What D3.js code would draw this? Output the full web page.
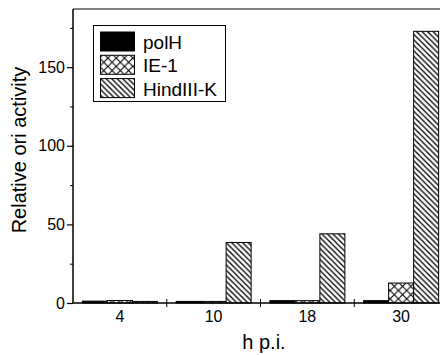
<!DOCTYPE html>
<html><head><meta charset="utf-8">
<script src="https://cdn.jsdelivr.net/npm/d3@7"></script>
<style>html,body{margin:0;padding:0;background:#fff}svg{display:block}text{font-family:"Liberation Sans",Arial,sans-serif;fill:#000}</style>
</head><body>
<svg id="c" width="440" height="355"></svg>
<script>
const categories = ["4", "10", "18", "30"];
const seriesNames = ["polH", "IE-1", "HindIII-K"];
const polH = [1.2, 1.0, 1.5, 1.5];
const ie1 = [1.6, 1.0, 1.5, 12.7];
const hindIIIK = [1.0, 38.5, 44, 172.8];
const yTicks = [0, 50, 100, 150];
const yMinorTicks = [25, 75, 125, 175];
const xTitle = "h p.i.";
const yTitle = "Relative ori activity";

const values = [polH, ie1, hindIIIK];
const svg = d3.select("#c");
const L = 73, R = 448, T = 9, B = 303;

const defs = svg.append("defs");
const diag = defs.append("pattern").attr("id", "diag").attr("patternUnits", "userSpaceOnUse")
  .attr("width", 5.5).attr("height", 5.5);
diag.append("rect").attr("width", 5.5).attr("height", 5.5).attr("fill", "#fff");
diag.append("path").attr("d", "M-1,-1 L6.5,6.5 M-1,4.5 L1,6.5 M4.5,-1 L6.5,1")
  .attr("stroke", "#000").attr("stroke-width", 1.3);
const cross = defs.append("pattern").attr("id", "cross").attr("patternUnits", "userSpaceOnUse")
  .attr("width", 8.3).attr("height", 8.3).attr("x", 0).attr("y", 0);
cross.append("rect").attr("width", 8.3).attr("height", 8.3).attr("fill", "#fff");
cross.append("path").attr("d", "M0,0 L8.3,8.3 M8.3,0 L0,8.3")
  .attr("stroke", "#000").attr("stroke-width", 1.1);
const fills = ["#000", "url(#cross)", "url(#diag)"];

const x0 = d3.scaleBand().domain(categories).range([L, R]).paddingInner(0.2).paddingOuter(0.1);
const x1 = d3.scaleBand().domain(seriesNames).range([0, x0.bandwidth()]);
const y = d3.scaleLinear().domain([0, 187]).range([B, T]);

// bars
categories.forEach((c, i) => {
  seriesNames.forEach((s, j) => {
    const v = values[j][i];
    svg.append("rect")
      .attr("x", x0(c) + x1(s))
      .attr("y", y(v))
      .attr("width", x1.bandwidth())
      .attr("height", B - y(v))
      .attr("fill", fills[j])
      .attr("stroke", "#000").attr("stroke-width", 1);
  });
});

// y axis
const yAxis = d3.axisLeft(y).tickValues(yTicks).tickSize(6).tickPadding(2);
const gy = svg.append("g").attr("transform", `translate(${L},0)`).call(yAxis);
gy.select(".domain").remove();
gy.selectAll("text").style("font-size", "16px").attr("font-family", "Liberation Sans, Arial, sans-serif");
gy.selectAll("line").attr("stroke-width", 1.2);
const gym = svg.append("g").attr("transform", `translate(${L},0)`)
  .call(d3.axisLeft(y).tickValues(yMinorTicks).tickSize(3).tickFormat(""));
gym.select(".domain").remove();

svg.append("line").attr("x1", L).attr("x2", L).attr("y1", T).attr("y2", B)
  .attr("stroke", "#000").attr("stroke-width", 1.5);
svg.append("line").attr("x1", L).attr("x2", 440).attr("y1", T).attr("y2", T)
  .attr("stroke", "#000").attr("stroke-width", 1);

// x axis
svg.append("line").attr("x1", L).attr("x2", 440).attr("y1", B).attr("y2", B)
  .attr("stroke", "#000").attr("stroke-width", 1.5);
const step = x0.step();
categories.slice(1).forEach(c => {
  const bx = x0(c) - step * x0.paddingInner() / 2;
  svg.append("line").attr("x1", bx).attr("x2", bx).attr("y1", B - 4).attr("y2", B + 4)
    .attr("stroke", "#000").attr("stroke-width", 1);
});
categories.forEach(c => {
  svg.append("text").attr("x", x0(c) + x0.bandwidth() / 2).attr("y", 322)
    .attr("text-anchor", "middle").style("font-size", "16px").text(c);
});

// titles
svg.append("text").attr("x", 264).attr("y", 349).attr("text-anchor", "middle")
  .style("font-size", "20px").text(xTitle);
svg.append("text").attr("transform", "translate(26,150) rotate(-90)").attr("text-anchor", "middle")
  .style("font-size", "20px").text(yTitle);

// legend
svg.append("rect").attr("x", 93.5).attr("y", 25.5).attr("width", 132).attr("height", 76)
  .attr("fill", "#fff").attr("stroke", "#000").attr("stroke-width", 1);
seriesNames.forEach((s, j) => {
  const ry = 32 + j * 23.3;
  svg.append("rect").attr("x", 100.5).attr("y", ry).attr("width", 34).attr("height", 19)
    .attr("fill", fills[j]).attr("stroke", "#000").attr("stroke-width", 1);
  svg.append("text").attr("x", 143).attr("y", ry + 17).style("font-size", "19px").text(s);
});
</script>
</body></html>
